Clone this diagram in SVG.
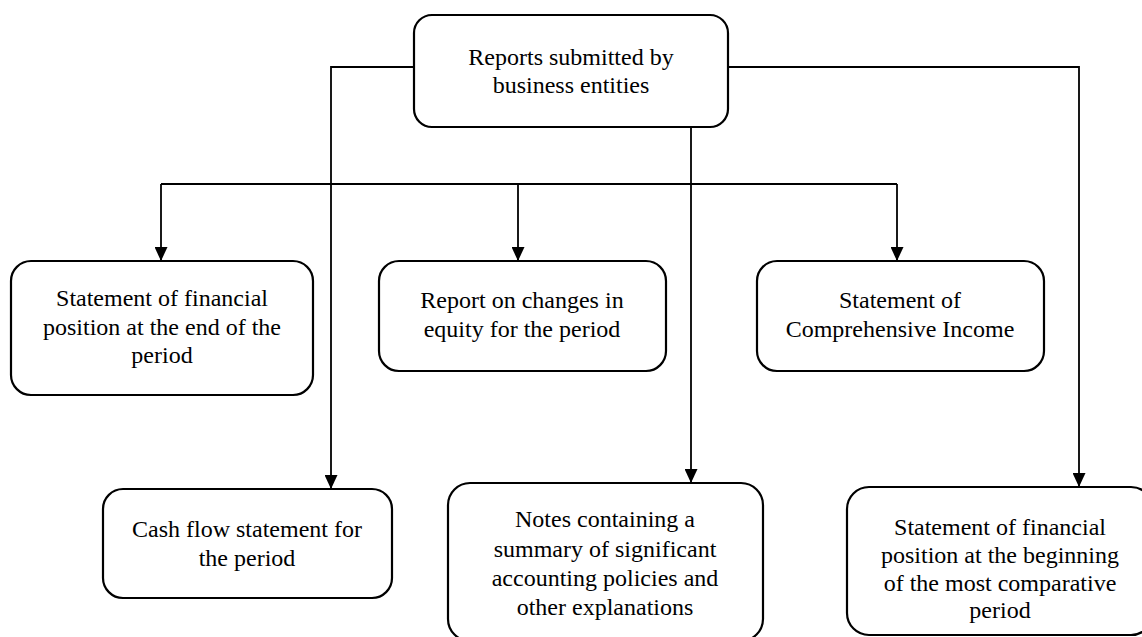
<svg xmlns="http://www.w3.org/2000/svg" width="1142" height="637" viewBox="0 0 1142 637">
<style>
.box{fill:#fff;stroke:#000;stroke-width:2.2}
.conn{fill:none;stroke:#000;stroke-width:1.8}
text{font-family:"Liberation Serif","Times New Roman",serif;font-size:24px;fill:#000;text-anchor:middle}
</style>
<defs>
<marker id="arr" viewBox="0 0 14 13" refX="14" refY="6.5" markerWidth="14" markerHeight="13" markerUnits="userSpaceOnUse" orient="auto">
<path d="M0,0 L14,6.5 L0,13 Z" fill="#000"/>
</marker>
</defs>
<rect width="1142" height="637" fill="#fff"/>
<g id="connectors">
<path class="conn" d="M414,67 H331 V489" marker-end="url(#arr)"/>
<path class="conn" d="M728,67 H1079 V487" marker-end="url(#arr)"/>
<path class="conn" d="M691,127 V483" marker-end="url(#arr)"/>
<path class="conn" d="M161,184 H897"/>
<path class="conn" d="M161,184 V261" marker-end="url(#arr)"/>
<path class="conn" d="M518,184 V261" marker-end="url(#arr)"/>
<path class="conn" d="M897,184 V261" marker-end="url(#arr)"/>
</g>
<g id="root">
<rect class="box" x="414" y="15" width="314" height="112" rx="18"/>
<text x="571" y="65">Reports submitted by</text>
<text x="571" y="93">business entities</text>
</g>
<g id="fin-pos-end">
<rect class="box" x="11" y="261" width="302" height="134" rx="20"/>
<text x="162" y="306">Statement of financial</text>
<text x="162" y="335">position at the end of the</text>
<text x="162" y="363">period</text>
</g>
<g id="equity">
<rect class="box" x="379" y="261" width="287" height="110" rx="20"/>
<text x="522" y="308">Report on changes in</text>
<text x="522" y="337">equity for the period</text>
</g>
<g id="comprehensive">
<rect class="box" x="757" y="261" width="287" height="110" rx="20"/>
<text x="900" y="308">Statement of</text>
<text x="900" y="337">Comprehensive Income</text>
</g>
<g id="cash-flow">
<rect class="box" x="103" y="489" width="289" height="109" rx="20"/>
<text x="247" y="537">Cash flow statement for</text>
<text x="247" y="566">the period</text>
</g>
<g id="notes">
<rect class="box" x="448" y="483" width="315" height="158" rx="22"/>
<text x="605" y="527">Notes containing a</text>
<text x="605" y="557">summary of significant</text>
<text x="605" y="586">accounting policies and</text>
<text x="605" y="615">other explanations</text>
</g>
<g id="fin-pos-begin">
<rect class="box" x="847" y="487" width="306" height="148" rx="22"/>
<text x="1000" y="535">Statement of financial</text>
<text x="1000" y="563">position at the beginning</text>
<text x="1000" y="591">of the most comparative</text>
<text x="1000" y="618">period</text>
</g>
</svg>
